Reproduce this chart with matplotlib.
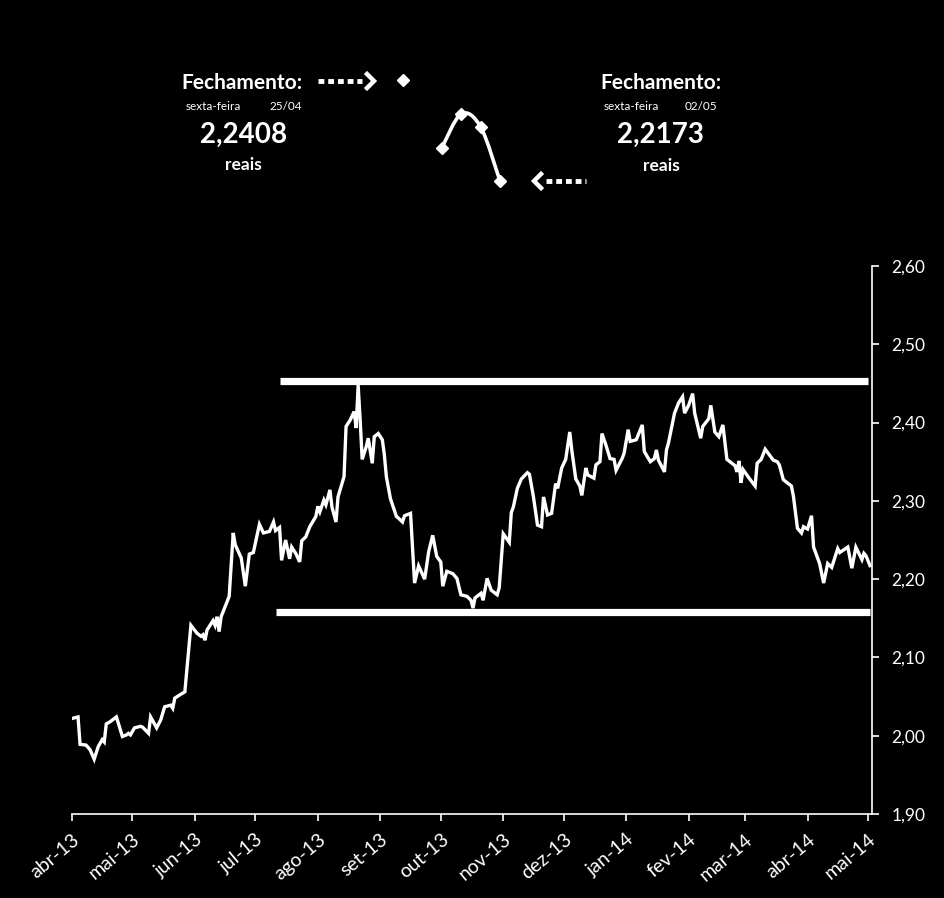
import matplotlib
matplotlib.use("Agg")
import matplotlib.pyplot as plt
import numpy as np
import pandas as pd
from matplotlib.lines import Line2D
from matplotlib.path import Path
from matplotlib.patches import PathPatch
from matplotlib.ticker import FuncFormatter

plt.rcParams['font.family'] = ['Lato', 'DejaVu Sans']

# daily USD/BRL closes
dates = [
    "2013-04-01", "2013-04-04", "2013-04-05", "2013-04-08", "2013-04-10", "2013-04-12", "2013-04-14",
    "2013-04-16", "2013-04-17", "2013-04-18", "2013-04-20", "2013-04-23", "2013-04-24", "2013-04-26",
    "2013-04-28", "2013-04-29", "2013-04-30",
    "2013-05-02", "2013-05-05", "2013-05-06", "2013-05-09", "2013-05-10", "2013-05-13", "2013-05-15",
    "2013-05-17", "2013-05-20", "2013-05-21", "2013-05-22", "2013-05-25", "2013-05-27", "2013-05-30",
    "2013-06-02", "2013-06-04", "2013-06-05", "2013-06-06", "2013-06-07", "2013-06-10", "2013-06-11",
    "2013-06-12", "2013-06-13", "2013-06-14", "2013-06-18", "2013-06-20", "2013-06-21", "2013-06-24",
    "2013-06-26", "2013-06-28", "2013-06-30",
    "2013-07-03", "2013-07-05", "2013-07-08", "2013-07-10", "2013-07-11", "2013-07-13", "2013-07-14",
    "2013-07-16", "2013-07-18", "2013-07-19", "2013-07-21", "2013-07-23", "2013-07-24", "2013-07-26",
    "2013-07-28", "2013-07-31",
    "2013-08-01", "2013-08-02", "2013-08-04", "2013-08-05", "2013-08-07", "2013-08-08", "2013-08-10",
    "2013-08-11", "2013-08-14", "2013-08-15", "2013-08-17", "2013-08-19", "2013-08-20", "2013-08-21",
    "2013-08-22", "2013-08-23", "2013-08-25", "2013-08-26", "2013-08-28", "2013-08-29", "2013-08-31",
    "2013-09-02", "2013-09-03", "2013-09-04", "2013-09-06", "2013-09-09", "2013-09-10", "2013-09-12",
    "2013-09-13", "2013-09-16", "2013-09-18", "2013-09-20", "2013-09-23", "2013-09-25", "2013-09-27",
    "2013-09-29",
    "2013-10-01", "2013-10-02", "2013-10-04", "2013-10-07", "2013-10-09", "2013-10-11", "2013-10-14",
    "2013-10-16", "2013-10-17", "2013-10-18", "2013-10-21", "2013-10-22", "2013-10-24", "2013-10-26",
    "2013-10-29", "2013-10-30",
    "2013-11-01", "2013-11-04", "2013-11-05", "2013-11-06", "2013-11-08", "2013-11-10", "2013-11-13",
    "2013-11-14", "2013-11-16", "2013-11-18", "2013-11-20", "2013-11-21", "2013-11-23", "2013-11-25",
    "2013-11-27", "2013-11-28", "2013-11-30",
    "2013-12-02", "2013-12-04", "2013-12-05", "2013-12-07", "2013-12-09", "2013-12-10", "2013-12-12",
    "2013-12-13", "2013-12-16", "2013-12-17", "2013-12-19", "2013-12-20", "2013-12-22", "2013-12-24",
    "2013-12-26", "2013-12-27", "2013-12-30", "2013-12-31",
    "2014-01-02", "2014-01-03", "2014-01-06", "2014-01-09", "2014-01-10", "2014-01-13", "2014-01-15",
    "2014-01-16", "2014-01-17", "2014-01-20", "2014-01-21", "2014-01-22", "2014-01-24", "2014-01-25",
    "2014-01-27", "2014-01-29", "2014-01-30",
    "2014-02-01", "2014-02-03", "2014-02-04", "2014-02-07", "2014-02-08", "2014-02-11", "2014-02-12",
    "2014-02-14", "2014-02-16", "2014-02-18", "2014-02-20", "2014-02-24", "2014-02-25", "2014-02-26",
    "2014-02-27", "2014-02-28",
    "2014-03-03", "2014-03-06", "2014-03-07", "2014-03-09", "2014-03-11", "2014-03-13", "2014-03-15",
    "2014-03-17", "2014-03-18", "2014-03-20", "2014-03-22", "2014-03-24", "2014-03-25", "2014-03-27",
    "2014-03-29", "2014-03-30",
    "2014-04-01", "2014-04-03", "2014-04-04", "2014-04-07", "2014-04-09", "2014-04-11", "2014-04-13",
    "2014-04-16", "2014-04-17", "2014-04-21", "2014-04-23", "2014-04-25", "2014-04-28", "2014-04-29",
    "2014-04-30", "2014-05-02",
]
usd_brl = [
    2.022, 2.024, 1.989, 1.988, 1.982, 1.970, 1.986,
    1.995, 1.992, 2.015, 2.018, 2.024, 2.016, 1.999,
    2.001, 2.003, 2.001,
    2.010, 2.012, 2.011, 2.003, 2.024, 2.010, 2.020,
    2.037, 2.039, 2.035, 2.048, 2.053, 2.056, 2.141,
    2.131, 2.127, 2.129, 2.122, 2.135, 2.147, 2.141,
    2.152, 2.133, 2.152, 2.178, 2.259, 2.244, 2.227,
    2.191, 2.232, 2.234,
    2.270, 2.259, 2.261, 2.273, 2.262, 2.266, 2.224,
    2.250, 2.226, 2.241, 2.233, 2.222, 2.249, 2.254,
    2.267, 2.280,
    2.293, 2.286, 2.301, 2.295, 2.314, 2.292, 2.273,
    2.305, 2.331, 2.395, 2.403, 2.414, 2.393, 2.448,
    2.403, 2.353, 2.369, 2.380, 2.348, 2.382, 2.386,
    2.378, 2.359, 2.331, 2.303, 2.280, 2.278, 2.273,
    2.281, 2.284, 2.195, 2.217, 2.200, 2.235, 2.256,
    2.229,
    2.222, 2.191, 2.210, 2.207, 2.201, 2.180, 2.178,
    2.173, 2.163, 2.176, 2.182, 2.173, 2.201, 2.186,
    2.180, 2.189,
    2.258, 2.247, 2.285, 2.292, 2.316, 2.328, 2.336,
    2.334, 2.305, 2.269, 2.267, 2.305, 2.282, 2.284,
    2.322, 2.316, 2.342,
    2.353, 2.388, 2.365, 2.328, 2.319, 2.307, 2.342,
    2.333, 2.329, 2.346, 2.350, 2.386, 2.371, 2.354,
    2.353, 2.339, 2.354, 2.361,
    2.391, 2.376, 2.378, 2.397, 2.363, 2.350, 2.354,
    2.365, 2.352, 2.337, 2.365, 2.374, 2.399, 2.412,
    2.425, 2.433, 2.412,
    2.422, 2.437, 2.412, 2.380, 2.395, 2.405, 2.422,
    2.388, 2.382, 2.397, 2.353, 2.345, 2.337, 2.351,
    2.323, 2.340,
    2.329, 2.319, 2.348, 2.353, 2.366, 2.359, 2.352,
    2.350, 2.346, 2.327, 2.323, 2.319, 2.306, 2.265,
    2.259, 2.267,
    2.264, 2.281, 2.241, 2.220, 2.195, 2.220, 2.215,
    2.239, 2.234, 2.241, 2.214, 2.2408, 2.2250, 2.2329,
    2.2299, 2.2173,
]

# support / resistance lines
resistance_level = 2.453
resistance_span = ["2013-07-13", "2014-05-01"]
support_level = 2.158
support_span = ["2013-07-11", "2014-05-02"]

month_labels = ["abr-13", "mai-13", "jun-13", "jul-13", "ago-13", "set-13", "out-13",
                "nov-13", "dez-13", "jan-14", "fev-14", "mar-14", "abr-14", "mai-14"]
month_ticks = pd.date_range("2013-04-01", periods=len(month_labels), freq="MS")

# week sparkline: previous friday + this week
prev_close_pos = [0]
prev_close = [2.2408]
week_pos = [2, 3, 4, 5]
week_close = [2.2250, 2.2329, 2.2299, 2.2173]

W, H = 944, 898
fig = plt.figure(figsize=(W / 100, H / 100), dpi=100, facecolor="black")


def fx(px):
    return px / W


def fy(py):
    return 1 - py / H


ax = fig.add_axes([fx(72), fy(814), fx(872) - fx(72), fy(266) - fy(814)])
ax.set_facecolor("black")
x = pd.to_datetime(dates)
ax.plot(x, usd_brl, color="white", lw=2.4, solid_joinstyle="miter")
ax.plot(pd.to_datetime(resistance_span), [resistance_level] * 2, color="white", lw=5.2, solid_capstyle="butt")
ax.plot(pd.to_datetime(support_span), [support_level] * 2, color="white", lw=5.2, solid_capstyle="butt")

ax.set_xlim(pd.Timestamp("2013-04-01"), pd.Timestamp("2014-05-03"))
ax.set_ylim(1.90, 2.60)
ax.set_yticks(np.arange(1.90, 2.601, 0.10))
ax.yaxis.set_major_formatter(FuncFormatter(lambda v, p: f"{v:.2f}".replace(".", ",")))
ax.yaxis.tick_right()
ax.set_xticks(month_ticks)
ax.set_xticklabels(month_labels, rotation=40, ha="right", rotation_mode="anchor")

for s in ["top", "left"]:
    ax.spines[s].set_visible(False)
for s in ["bottom", "right"]:
    ax.spines[s].set_color("white")
    ax.spines[s].set_linewidth(1.2)
ax.tick_params(axis="both", colors="white", length=5, width=1.2, direction="out")
ax.tick_params(axis="y", pad=9, labelsize=12.5)
ax.tick_params(axis="x", pad=7, labelsize=14)

# sparkline inset
sp = fig.add_axes([fx(403), fy(181), fx(500) - fx(403), fy(80) - fy(181)])
sp.set_xlim(0, 5)
sp.set_ylim(min(week_close), max(prev_close))
sp.axis("off")
pts = np.column_stack([week_pos, week_close])
ext = np.vstack([pts[0], pts, pts[-1]])
verts = [tuple(pts[0])]
codes = [Path.MOVETO]
for i in range(1, len(ext) - 2):
    p0, p1, p2, p3 = ext[i - 1], ext[i], ext[i + 1], ext[i + 2]
    c1 = p1 + (p2 - p0) / 6
    c2 = p2 - (p3 - p1) / 6
    verts += [tuple(c1), tuple(c2), tuple(p2)]
    codes += [Path.CURVE4] * 3
sp.add_patch(PathPatch(Path(verts, codes), facecolor="none", edgecolor="white", lw=2.6, clip_on=False))
sp.plot(week_pos, week_close, ls="none", marker="D", ms=6.5, color="white", clip_on=False)
sp.plot(prev_close_pos, prev_close, ls="none", marker="D", ms=6.5, color="white", clip_on=False)

# annotation texts
txt = dict(color="white", ha="center", va="center")
fig.text(fx(242), fy(83), "Fechamento:", fontsize=15, weight="bold", **txt)
fig.text(fx(213), fy(106), "sexta-feira", fontsize=8.5, **txt)
fig.text(fx(286), fy(106), "25/04", fontsize=8.5, **txt)
fig.text(fx(244), fy(135), "2,2408", fontsize=20, weight="bold", **txt)
fig.text(fx(243), fy(165), "reais", fontsize=12.5, weight="bold", **txt)

fig.text(fx(661), fy(83), "Fechamento:", fontsize=15, weight="bold", **txt)
fig.text(fx(631), fy(106), "sexta-feira", fontsize=8.5, **txt)
fig.text(fx(701), fy(106), "02/05", fontsize=8.5, **txt)
fig.text(fx(660), fy(135), "2,2173", fontsize=20, weight="bold", **txt)
fig.text(fx(661), fy(166), "reais", fontsize=12.5, weight="bold", **txt)

# dotted arrows
dots = dict(color="white", lw=3.5, ls=(0, (1.2, 0.8)), transform=fig.transFigure, solid_capstyle="butt")
head = dict(color="white", lw=3.2, transform=fig.transFigure, solid_joinstyle="miter")
fig.add_artist(Line2D([fx(318), fx(362)], [fy(81), fy(81)], **dots))
fig.add_artist(Line2D([fx(367), fx(374), fx(367)], [fy(74), fy(81), fy(88)], **head))
fig.add_artist(Line2D([fx(546), fx(586)], [fy(181), fy(181)], **dots))
fig.add_artist(Line2D([fx(541), fx(534), fx(541)], [fy(174), fy(181), fy(188)], **head))

fig.savefig("out.png", dpi=100, facecolor="black")
